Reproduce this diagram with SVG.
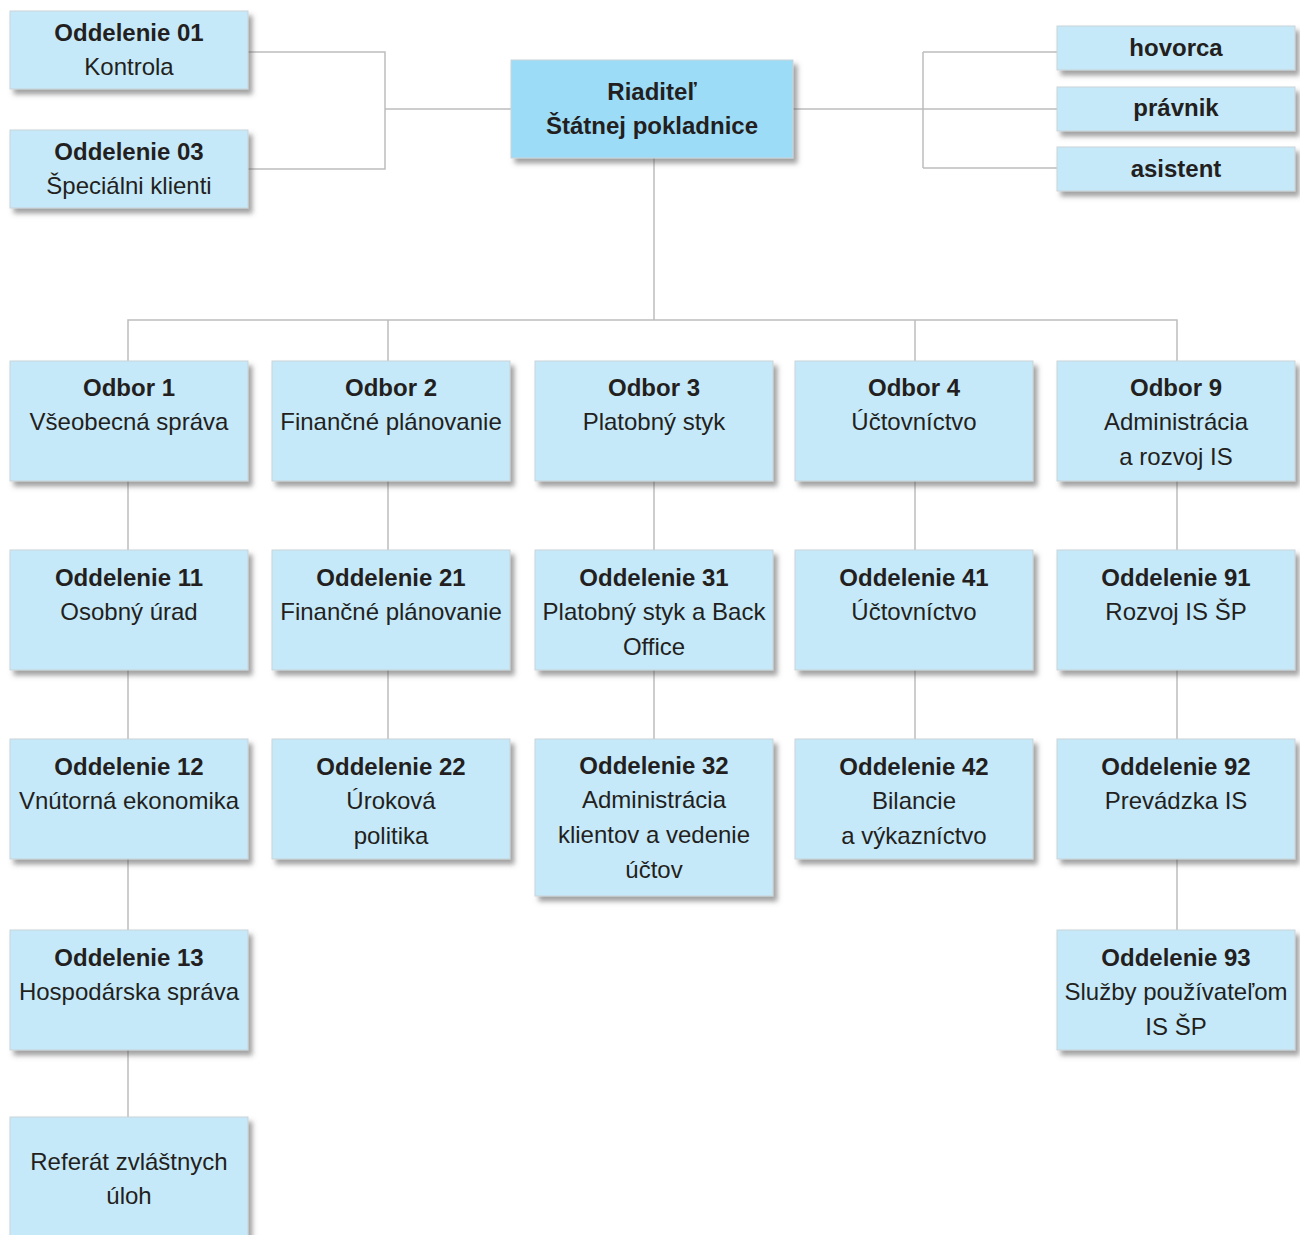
<svg xmlns="http://www.w3.org/2000/svg" width="1300" height="1235" viewBox="0 0 1300 1235">
<defs>
<filter id="sh" x="-10%" y="-10%" width="130%" height="140%">
<feDropShadow dx="4" dy="5" stdDeviation="2.5" flood-color="#555" flood-opacity="0.55"/>
</filter>
<style>
.b{fill:#c6e9f9;stroke:#c9d3d8;stroke-width:1;filter:url(#sh)}
.r{fill:#9ddcf7;stroke:#c9d3d8;stroke-width:1;filter:url(#sh)}
text{font-family:"Liberation Sans",Arial,sans-serif;font-size:24px;fill:#231f20;text-anchor:middle}
.h{font-weight:bold}
.c{fill:none;stroke:#bdbdbd;stroke-width:1.5}
</style>
</defs>
<rect width="1300" height="1235" fill="#fff"/>
<g id="connectors" class="c">
<path d="M248,52H385V169H248M385,109H511"/>
<path d="M793,109H923M923,52V168M923,52H1057M923,109H1057M923,168H1057"/>
<path d="M654,158V320M128,361V320H1177V361M388,320V361M915,320V361"/>
<path d="M128,481V550M128,670V739M128,859V930M128,1050V1117"/>
<path d="M388,481V550M388,670V739"/>
<path d="M654,481V550M654,670V739"/>
<path d="M915,481V550M915,670V739"/>
<path d="M1177,481V550M1177,670V739M1177,859V930"/>
</g>
<g id="n01"><rect class="b" x="10" y="11" width="238" height="78"/><text x="129" y="41" class="h">Oddelenie 01</text><text x="129" y="75">Kontrola</text></g>
<g id="n03"><rect class="b" x="10" y="130" width="238" height="78"/><text x="129" y="160" class="h">Oddelenie 03</text><text x="129" y="194">Špeciálni klienti</text></g>
<g id="riaditel"><rect class="r" x="511" y="60" width="282" height="98"/><text x="652" y="100" class="h">Riaditeľ</text><text x="652" y="134" class="h">Štátnej pokladnice</text></g>
<g id="hovorca"><rect class="b" x="1057" y="26" width="238" height="44"/><text x="1176" y="56" class="h">hovorca</text></g>
<g id="pravnik"><rect class="b" x="1057" y="87" width="238" height="44"/><text x="1176" y="116" class="h">právnik</text></g>
<g id="asistent"><rect class="b" x="1057" y="147" width="238" height="44"/><text x="1176" y="177" class="h">asistent</text></g>

<g id="odbor1"><rect class="b" x="10" y="361" width="238" height="120"/><text x="129" y="396" class="h">Odbor 1</text><text x="129" y="430">Všeobecná správa</text></g>
<g id="odbor2"><rect class="b" x="272" y="361" width="238" height="120"/><text x="391" y="396" class="h">Odbor 2</text><text x="391" y="430">Finančné plánovanie</text></g>
<g id="odbor3"><rect class="b" x="535" y="361" width="238" height="120"/><text x="654" y="396" class="h">Odbor 3</text><text x="654" y="430">Platobný styk</text></g>
<g id="odbor4"><rect class="b" x="795" y="361" width="238" height="120"/><text x="914" y="396" class="h">Odbor 4</text><text x="914" y="430">Účtovníctvo</text></g>
<g id="odbor9"><rect class="b" x="1057" y="361" width="238" height="120"/><text x="1176" y="396" class="h">Odbor 9</text><text x="1176" y="430">Administrácia</text><text x="1176" y="465">a rozvoj IS</text></g>

<g id="odd11"><rect class="b" x="10" y="550" width="238" height="120"/><text x="129" y="586" class="h">Oddelenie 11</text><text x="129" y="620">Osobný úrad</text></g>
<g id="odd21"><rect class="b" x="272" y="550" width="238" height="120"/><text x="391" y="586" class="h">Oddelenie 21</text><text x="391" y="620">Finančné plánovanie</text></g>
<g id="odd31"><rect class="b" x="535" y="550" width="238" height="120"/><text x="654" y="586" class="h">Oddelenie 31</text><text x="654" y="620">Platobný styk a Back</text><text x="654" y="655">Office</text></g>
<g id="odd41"><rect class="b" x="795" y="550" width="238" height="120"/><text x="914" y="586" class="h">Oddelenie 41</text><text x="914" y="620">Účtovníctvo</text></g>
<g id="odd91"><rect class="b" x="1057" y="550" width="238" height="120"/><text x="1176" y="586" class="h">Oddelenie 91</text><text x="1176" y="620">Rozvoj IS ŠP</text></g>

<g id="odd12"><rect class="b" x="10" y="739" width="238" height="120"/><text x="129" y="775" class="h">Oddelenie 12</text><text x="129" y="809">Vnútorná ekonomika</text></g>
<g id="odd22"><rect class="b" x="272" y="739" width="238" height="120"/><text x="391" y="775" class="h">Oddelenie 22</text><text x="391" y="809">Úroková</text><text x="391" y="844">politika</text></g>
<g id="odd32"><rect class="b" x="535" y="739" width="238" height="157"/><text x="654" y="774" class="h">Oddelenie 32</text><text x="654" y="808">Administrácia</text><text x="654" y="843">klientov a vedenie</text><text x="654" y="878">účtov</text></g>
<g id="odd42"><rect class="b" x="795" y="739" width="238" height="120"/><text x="914" y="775" class="h">Oddelenie 42</text><text x="914" y="809">Bilancie</text><text x="914" y="844">a výkazníctvo</text></g>
<g id="odd92"><rect class="b" x="1057" y="739" width="238" height="120"/><text x="1176" y="775" class="h">Oddelenie 92</text><text x="1176" y="809">Prevádzka IS</text></g>

<g id="odd13"><rect class="b" x="10" y="930" width="238" height="120"/><text x="129" y="966" class="h">Oddelenie 13</text><text x="129" y="1000">Hospodárska správa</text></g>
<g id="odd93"><rect class="b" x="1057" y="930" width="238" height="120"/><text x="1176" y="966" class="h">Oddelenie 93</text><text x="1176" y="1000">Služby používateľom</text><text x="1176" y="1035">IS ŠP</text></g>

<g id="referat"><rect class="b" x="10" y="1117" width="238" height="130"/><text x="129" y="1170">Referát zvláštnych</text><text x="129" y="1204">úloh</text></g>
</svg>
